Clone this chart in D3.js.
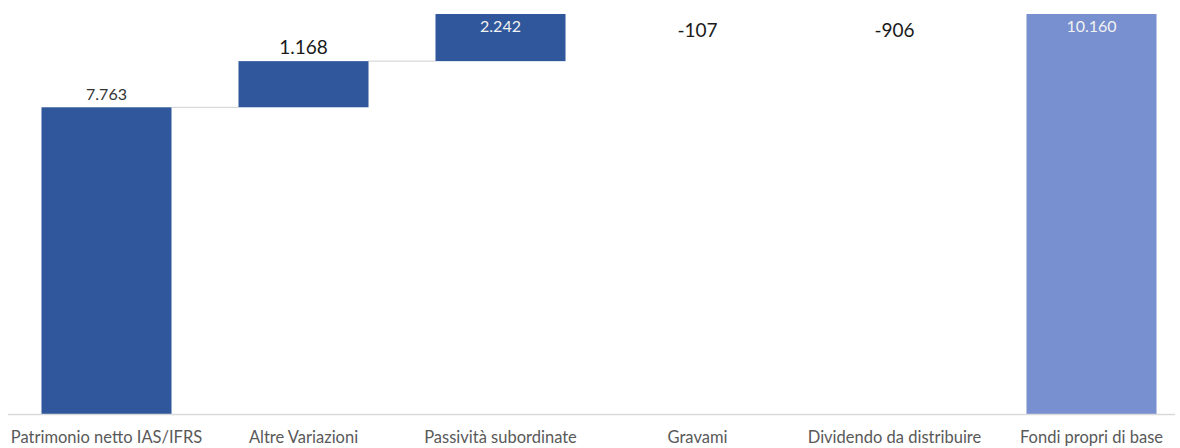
<!DOCTYPE html>
<html><head><meta charset="utf-8">
<script src="https://cdn.jsdelivr.net/npm/d3@7"></script>
<style>html,body{margin:0;padding:0;background:#fff;}svg{display:block;}</style>
</head><body><svg id="c" width="1180" height="448"></svg>
<script>
const categories = ["Patrimonio netto IAS/IFRS","Altre Variazioni","Passività subordinate","Gravami","Dividendo da distribuire","Fondi propri di base"];
const values = [7763, 1168, 2242, -107, -906, 10160];
const kinds = ["total","delta","delta","delta","delta","total"];
const valueLabels = ["7.763","1.168","2.242","-107","-906","10.160"];
const labelSizes = [16, 19, 16, 19, 19, 16];

const W = 1180, H = 448;
const plotTop = 14, baseY = 414;
const svg = d3.select("#c");
const x = d3.scaleBand().domain(categories).range([8, 1190]).paddingInner(0.34).paddingOuter(0.17);
const y = d3.scaleLinear().domain([0, 10124]).range([baseY, plotTop]);

let run = 0;
const bars = values.map((v,i)=>{
  let y0, y1;
  if (kinds[i]==="total"){ y0=0; y1=v; run=v; }
  else { y0=run; y1=run+v; run=y1; }
  return {cat:categories[i], lo:Math.min(y0,y1), hi:Math.max(y0,y1), end:y1, kind:kinds[i], label:valueLabels[i], size:labelSizes[i], v};
});

svg.append("defs").append("clipPath").attr("id","clip")
  .append("rect").attr("x",0).attr("y",plotTop).attr("width",W).attr("height",baseY-plotTop);

const g = svg.append("g").attr("clip-path","url(#clip)");
bars.slice(0,-1).forEach((b,i)=>{
  const n = bars[i+1];
  g.append("line")
    .attr("x1", x(b.cat)+x.bandwidth()).attr("x2", x(n.cat))
    .attr("y1", y(b.end)).attr("y2", y(b.end))
    .attr("stroke","#d9d9d9").attr("stroke-width",1.3);
});
g.selectAll("rect.bar").data(bars).enter().append("rect")
  .attr("class","bar")
  .attr("x", d=>x(d.cat)).attr("width", x.bandwidth())
  .attr("y", d=>y(d.hi)).attr("height", d=>y(d.lo)-y(d.hi))
  .attr("fill", d=>d.kind==="total" && d.cat===categories[categories.length-1] ? "#7890cf" : "#30579b");

svg.append("line").attr("x1",8).attr("x2",1175).attr("y1",baseY+0.5).attr("y2",baseY+0.5)
  .attr("stroke","#d9d9d9").attr("stroke-width",1.3);

const xAxis = d3.axisBottom(x).tickSize(0).tickPadding(0);
const ax = svg.append("g").attr("transform",`translate(0,${baseY})`).call(xAxis);
ax.select(".domain").remove();
ax.selectAll("text").attr("dy",null).attr("y",28.7)
  .attr("font-family","Lato, 'Open Sans', sans-serif").attr("font-size",16.5).attr("fill","#595959");

bars.forEach(b=>{
  const cx = x(b.cat)+x.bandwidth()/2;
  const topPx = y(b.hi);
  let ty, fill;
  if (topPx < plotTop + 5) {
    if (b.v > 0 && y(b.lo) > plotTop + 20) { ty = plotTop + 18; fill = "#f2f2f2"; }
    else { ty = plotTop + 22.7; fill = "#1a1a1a"; }
  } else { ty = topPx - 7; fill = b.size > 16.5 ? "#1a1a1a" : "#333"; }
  svg.append("text").attr("x",cx).attr("y",ty).attr("text-anchor","middle")
    .attr("font-family","Lato, 'Open Sans', sans-serif").attr("font-size",b.size)
    .attr("fill",fill).text(b.label);
});
</script></body></html>
